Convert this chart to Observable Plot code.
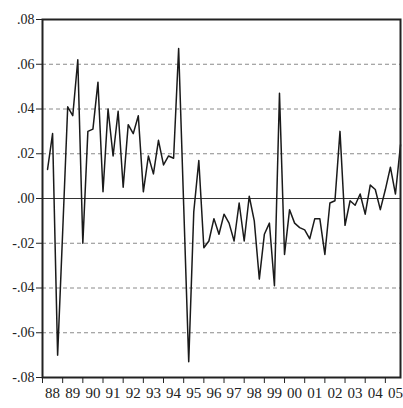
<!DOCTYPE html>
<html>
<head>
<meta charset="utf-8">
<script src="https://cdn.jsdelivr.net/npm/d3@7"></script>
<script src="https://cdn.jsdelivr.net/npm/@observablehq/plot@0.6"></script>
<style>
  html, body { margin: 0; padding: 0; background: #fff; }
  #chart svg { display: block; }
</style>
</head>
<body>
<div id="chart"></div>
<script>
// Quarterly observations, 1988Q2 .. 2005Q4
const firstYear = 1988;
const firstQuarter = 2;
const values = [
  0.013, 0.029, -0.070, -0.015, 0.041, 0.037, 0.062, -0.020, 0.030, 0.031,
  0.052, 0.003, 0.040, 0.019, 0.039, 0.005, 0.033, 0.029, 0.037, 0.003,
  0.019, 0.011, 0.026, 0.015, 0.019, 0.018, 0.067, -0.003, -0.073, -0.006,
  0.017, -0.022, -0.019, -0.009, -0.016, -0.007, -0.011, -0.019, -0.002, -0.019,
  0.001, -0.010, -0.036, -0.016, -0.011, -0.039, 0.047, -0.025, -0.005, -0.011,
  -0.013, -0.014, -0.018, -0.009, -0.009, -0.025, -0.002, -0.001, 0.030, -0.012,
  -0.001, -0.003, 0.002, -0.007, 0.006, 0.004, -0.005, 0.004, 0.014, 0.002,
  0.024
];
const tickYears = [1988,1989,1990,1991,1992,1993,1994,1995,1996,1997,1998,1999,2000,2001,2002,2003,2004,2005];
const tickLabels = ["88","89","90","91","92","93","94","95","96","97","98","99","00","01","02","03","04","05"];
const yTicks = [-0.08,-0.06,-0.04,-0.02,0,0.02,0.04,0.06,0.08];
const yTickLabels = ["-.08","-.06","-.04","-.02",".00",".02",".04",".06",".08"];
const gridValues = [-0.06,-0.04,-0.02,0.02,0.04,0.06];

const data = values.map((v, i) => ({
  t: firstYear + (firstQuarter - 1 + i) / 4,
  v
}));
const labelPos = tickYears.map(y => y + 0.5);

const chart = Plot.plot({
  width: 403,
  height: 408,
  marginLeft: 42,
  marginRight: 3,
  marginTop: 19,
  marginBottom: 31,
  style: { fontFamily: "'Liberation Serif', 'Times New Roman', serif", background: "#fff", color: "#222" },
  x: { domain: [firstYear, 2005.75] },
  y: { domain: [-0.08, 0.08] },
  marks: [
    Plot.ruleY(gridValues, { stroke: "#8a8a8a", strokeWidth: 1, strokeDasharray: "4,3" }),
    Plot.ruleY([0], { stroke: "#333", strokeWidth: 1.2 }),
    Plot.lineY(data, { x: "t", y: "v", stroke: "#1a1a1a", strokeWidth: 1.5 }),
    Plot.frame({ stroke: "#222", strokeWidth: 2 }),
    Plot.axisY({
      ticks: yTicks,
      tickFormat: d => yTickLabels[yTicks.findIndex(t => Math.abs(t - d) < 1e-9)],
      tickSize: 6,
      tickPadding: 2,
      fontSize: 14,
      stroke: "#222",
      label: null
    }),
    Plot.axisX({
      ticks: tickYears,
      tickFormat: () => "",
      tickSize: 6,
      stroke: "#222",
      label: null
    }),
    Plot.axisX({
      ticks: labelPos,
      tickFormat: d => tickLabels[tickYears.indexOf(Math.round(d - 0.5))],
      tickSize: 0,
      tickPadding: 10,
      fontSize: 15,
      letterSpacing: -1,
      label: null
    })
  ]
});
document.getElementById("chart").appendChild(chart);
</script>
</body>
</html>
